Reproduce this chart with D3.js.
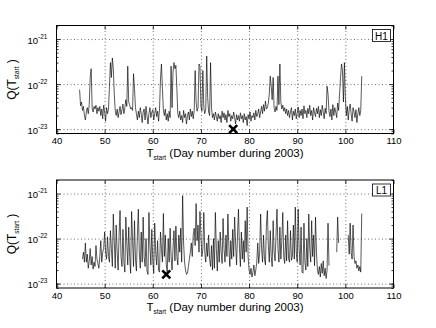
<!DOCTYPE html>
<html>
<head>
<meta charset="utf-8">
<script src="https://cdn.jsdelivr.net/npm/d3@7"></script>
<style>
  body { margin: 0; background: #fff; }
  text { font-family: "Liberation Sans", Arial, sans-serif; fill: #000; }
</style>
</head>
<body>
<svg class="chart"></svg>
<script>
/*
  DATA: Q(Tstart), one value every 0.2 day,
  given in units of 1e-23. null = no data.
*/
var sampleStep = 0.2;
var qUnit = 1e-23;

var h1Start = 44.8;
var h1Q = [
  7.5, 3.3, 4.0, 2.6, 3.2, 2.0,
  1.6, 2.4, 3.0, 2.2, 3.5,
  14, 22, 3.0, 2.4, 3.2,
  2.8, 3.4, 2.2, 3.0, 2.5,
  3.2, 2.0, 2.8, 1.7, 3.4,
  2.4, 1.5, 3.0, 2.2, 2.8,
  9, 30, 14, 38, 22,
  6, 2.6, 2.0, 2.8, 1.8,
  2.4, 3.2, 2.1, 2.7, 3.6,
  2.2, 3.0, 4.5, 3.2, 25,
  4.0, 3.5, 2.8, 3.0, 2.6,
  17, 8, 3.0, 2.2, 1.6,
  2.5, 1.8, 3.0, 2.2, 1.4,
  2.4, 2.8, 1.6, 3.2, 2.0,
  1.3, 2.2, 3.0, 1.8, 2.4,
  2.7, 1.6, 2.2, 3.0, 1.9,
  2.5, 1.5, 2.8, 13, 28,
  8, 2.6, 2.0, 2.8, 1.6,
  2.2, 1.5, 2.5, 1.8, 25,
  3, 18, 30, 22, 26,
  8, 2.2, 1.8, 2.5, 1.6,
  2.0, 1.4, 2.6, 1.8, 2.2,
  1.3, 2.0, 2.4, 1.6, 2.8,
  1.9, 2.5, 1.7, 2.6, 20,
  4, 2.5, 3.0, 28, 25,
  3.2, 2.5, 20, 3.0, 2.2,
  2.8, 42, 5, 2.4, 2.0,
  30, 3.0, 1.8, 2.2, 1.6,
  2.4, 1.9, 1.5, 2.2, 1.7,
  2.0, 1.4, 2.5, 1.8, 2.3,
  1.6, 2.1, 1.4, 2.6, 1.9,
  2.2, 1.5, 2.0, 1.7, 2.4,
  1.8, 1.3, 2.1, 1.6, 2.0,
  1.5, 2.3, 1.7, 2.0, 1.4,
  2.2, 1.6, 1.9, 1.2, 2.1,
  1.7, 2.4, 1.5, 2.0, 1.8,
  2.3, 1.6, 2.6, 1.9, 2.2,
  2.8, 1.8, 2.4, 3.2, 2.2,
  3.5, 2.5, 4.2, 2.8, 3.0,
  3.8, 6, 15, 9, 4.5,
  14, 3.0, 2.4, 3.2, 2.6,
  15, 3.5, 28, 4, 2.8,
  3.4, 2.5, 3.0, 2.2, 2.8,
  2.0, 2.6, 1.8, 2.4, 3.0,
  1.6, 2.5, 2.0, 2.8, 1.7,
  2.3, 3.1, 1.8, 2.6, 2.0,
  2.8, 1.7, 3.3, 2.2, 2.6,
  1.8, 2.9, 2.2, 3.4, 2.0,
  2.6, 1.6, 3.0, 2.3, 1.9,
  2.9, 2.2, 3.2, 1.8, 2.7,
  2.0, 3.4, 2.4, 1.7, 2.9,
  2.2, 9, 6, 2.5, 1.9,
  2.8, 1.6, 3.5, 2.0, 3.0,
  2.4, 1.8, 3.8, 2.6, 6,
  14, 28, 20, 4, 30,
  5, 2.0, 3.2, 1.6, 2.8,
  3.6, 2.2, 1.5, 3.0, 2.4,
  1.8, 2.7, 1.4, 2.2, 3.0,
  2.0, 2.6, 15
];

var l1Start = 45.4;
var l1Q = [
  3.5, 5, 3.0,
  8, 3.0, 4.5, 2.2, 3.2,
  6, 2.6, 4.0, 2.1, 3.0,
  2.4, 7, 3.5, 2.8, 2.2,
  4.0, 9, 3.0, 5, 6,
  14, 5, 3.5, 11, 4,
  3.0, 15, 6, 2.4, 35,
  9, 2.2, 20, 5, 2.0,
  12, 42, 4, 2.4, 16,
  3.0, 1.8, 30, 8, 2.6,
  18, 4, 1.7, 40, 9,
  2.4, 25, 3.5, 1.9, 12,
  45, 5, 2.2, 14, 3.0,
  30, 4, 2.4, 10, 1.9,
  1.6, 38, 7, 2.6, 16,
  3.2, 1.7, 22, 5, 2.6,
  9, 2.0, 1.8, 14, 6,
  3.0, 36, 4, 12, 2.6,
  1.8, 10, 3.0, 17, 4,
  2.0, 6, 15, 3.2, 19,
  4, 2.6, 12, 5, 17,
  3.0, 90, 8, 3.0, 2.0,
  1.6, 1.7, 2.4, 3.5, 5,
  8, 4, 12, 17, 7,
  60, 9, 20, 5, 40,
  12, 4, 6, 38, 5,
  3.0, 8, 4, 12, 3.5,
  2.4, 7, 2.0, 10, 2.2,
  38, 6, 1.9, 9, 3.0,
  14, 5, 2.8, 28, 6,
  3.0, 12, 4, 35, 7,
  2.4, 9, 3.5, 16, 4,
  30, 8, 2.6, 12, 45,
  6, 2.4, 14, 3.5, 9,
  3.0, 25, 5, 50, 4,
  2.0, 1.6, 2.2, 1.4, 1.8,
  2.6, 1.5, 2.0, 3.0, 8,
  2.8, 5, 35, 6, 3.0,
  12, 3.5, 2.6, 20, 42,
  7, 3.0, 15, 4, 2.4,
  25, 5, 3.2, 12, 45,
  6, 3.0, 18, 3.5, 9,
  38, 4, 2.8, 12, 3.2,
  25, 3.6, 3.0, 15, 3.3,
  4, 20, 3.5, 50, 5,
  3.0, 45, 6, 2.6, 18,
  1.8, 1.7, 22, 3.0, 2.0,
  10, 2.4, 35, 6, 3.0,
  25, 4, 12, 2.5, 30,
  5, 2.0, 1.6, 2.4, 1.4,
  2.8, 1.7, 3.2, 1.5, 2.2,
  1.3, 2.0, 22, 2.5, null,
  null, null, null, null, null,
  null, 5, 30, 8, null,
  null, null, null, null, null,
  null, null, null, 12, 4.5,
  22, 5, 3.5, 20, 4,
  2.8, 3.2, 2.2, 2.6, 1.9,
  2.4, 1.8, 36
];

var detectors = ["H1", "L1"];
var markerDays = [76.7, 62.8];
var markerQ = [1.0e-23, 1.6e-23];

var xTicks = [40, 50, 60, 70, 80, 90, 100, 110];
var xGrid = [50, 60, 70, 80, 90, 100];
var yTicks = [1e-23, 1e-22, 1e-21];

/*
  SETUP
*/
var chartWidth = 436, chartHeight = 328;
var margin = {left: 56.5, right: 42.5},
  width = chartWidth - margin.left - margin.right,
  panelHeight = 108,
  panelTops = [25.5, 180];

var chart = d3.select(".chart")
  .attr("width", chartWidth)
  .attr("height", chartHeight)
  .style("display", "block");

chart.append("rect")
  .attr("width", chartWidth)
  .attr("height", chartHeight)
  .attr("fill", "#fff");

var x = d3.scaleLinear().domain([40, 110]).range([0, width]);
var y = d3.scaleLog().domain([8e-24, 2e-21]).range([panelHeight, 0]);
var yMinor = y.ticks().filter(function(d) {
  return yTicks.indexOf(d) < 0;
});

// turn the flat arrays into {day, q} records
function toSeries(start, values) {
  return values.map(function(v, i) {
    return {day: start + i * sampleStep, q: v == null ? null : v * qUnit};
  });
}
var series = [toSeries(h1Start, h1Q), toSeries(l1Start, l1Q)];

var line = d3.line()
  .defined(function(d) { return d.q != null; })
  .x(function(d) { return x(d.day); })
  .y(function(d) { return y(d.q); });

function styleAxis(g) {
  g.select(".domain").remove();
  g.selectAll(".tick line").attr("stroke", "#000").attr("stroke-width", 0.8);
}

function drawPanel(i) {
  var body = chart.append("g")
    .attr("transform", "translate(" + margin.left + "," + panelTops[i] + ")");

  // dotted grid
  body.append("g")
    .attr("class", "grid")
    .attr("transform", "translate(0," + panelHeight + ")")
    .call(d3.axisBottom(x).tickValues(xGrid).tickSize(-panelHeight).tickFormat(""))
    .call(function(g) { g.select(".domain").remove(); });
  body.append("g")
    .attr("class", "grid")
    .call(d3.axisLeft(y).tickValues(yTicks).tickSize(-width).tickFormat(""))
    .call(function(g) { g.select(".domain").remove(); });
  body.selectAll(".grid line")
    .attr("stroke", "#333")
    .attr("stroke-width", 0.7)
    .attr("stroke-dasharray", "1,2.5");

  // data
  body.append("path")
    .datum(series[i])
    .attr("fill", "none")
    .attr("stroke", "#000")
    .attr("stroke-width", 0.65)
    .attr("stroke-linejoin", "miter")
    .attr("d", line);

  // frame
  body.append("rect")
    .attr("width", width)
    .attr("height", panelHeight)
    .attr("fill", "none")
    .attr("stroke", "#000")
    .attr("stroke-width", 1);

  // x axes, ticks pointing in
  body.append("g")
    .attr("transform", "translate(0," + panelHeight + ")")
    .call(d3.axisBottom(x).tickValues(xTicks).tickSizeInner(-4).tickSizeOuter(0).tickPadding(4))
    .call(styleAxis)
    .selectAll("text")
      .attr("font-size", 9.5);
  body.append("g")
    .call(d3.axisTop(x).tickValues(xTicks).tickSizeInner(-4).tickSizeOuter(0).tickFormat(""))
    .call(styleAxis);

  // y axes with 10^n labels and minor ticks
  body.append("g")
    .call(d3.axisLeft(y).tickValues(yTicks).tickSizeInner(-4).tickSizeOuter(0).tickPadding(9))
    .call(styleAxis)
    .selectAll("text")
      .attr("font-size", 9.5)
      .attr("dy", "0.45em")
      .each(function(d) {
        var t = d3.select(this).text("");
        t.append("tspan").text("10");
        t.append("tspan")
          .attr("dy", -5)
          .attr("font-size", 6.5)
          .text(Math.round(Math.log10(d)));
      });
  body.append("g")
    .call(d3.axisLeft(y).tickValues(yMinor).tickSizeInner(-2).tickSizeOuter(0).tickFormat(""))
    .call(styleAxis);
  body.append("g")
    .attr("transform", "translate(" + width + ",0)")
    .call(d3.axisRight(y).tickValues(yTicks).tickSizeInner(-4).tickSizeOuter(0).tickFormat(""))
    .call(styleAxis);
  body.append("g")
    .attr("transform", "translate(" + width + ",0)")
    .call(d3.axisRight(y).tickValues(yMinor).tickSizeInner(-2).tickSizeOuter(0).tickFormat(""))
    .call(styleAxis);

  // detector tag
  var tag = body.append("g")
    .attr("transform", "translate(" + (width - 21) + ",4)");
  tag.append("rect")
    .attr("width", 18)
    .attr("height", 12)
    .attr("fill", "#fff")
    .attr("stroke", "#000")
    .attr("stroke-width", 0.8);
  tag.append("text")
    .attr("x", 9)
    .attr("y", 10)
    .attr("text-anchor", "middle")
    .attr("font-size", 10)
    .text(detectors[i]);

  // minimum marker
  body.append("path")
    .attr("transform", "translate(" + x(markerDays[i]) + "," + y(markerQ[i]) + ")")
    .attr("d", "M-4,-4L4,4M-4,4L4,-4")
    .attr("stroke", "#000")
    .attr("stroke-width", 2.6)
    .attr("fill", "none");

  // axis labels
  var xl = body.append("text")
    .attr("x", width / 2)
    .attr("y", panelHeight + 23)
    .attr("text-anchor", "middle")
    .attr("font-size", 11.5);
  xl.append("tspan").text("T");
  xl.append("tspan").attr("font-size", 6.5).attr("dy", 3).text("start");
  xl.append("tspan").attr("dy", -3).text(" (Day number during 2003)");

  var yl = body.append("text")
    .attr("transform", "translate(-40.5," + (panelHeight / 2) + ") rotate(-90)")
    .attr("text-anchor", "middle")
    .attr("font-size", 12);
  yl.append("tspan").text("Q(T");
  yl.append("tspan").attr("font-size", 6.5).attr("dy", 3).text("start");
  yl.append("tspan").attr("dy", -3).text(" )");
}

detectors.forEach(function(d, i) { drawPanel(i); });
</script>
</body>
</html>
